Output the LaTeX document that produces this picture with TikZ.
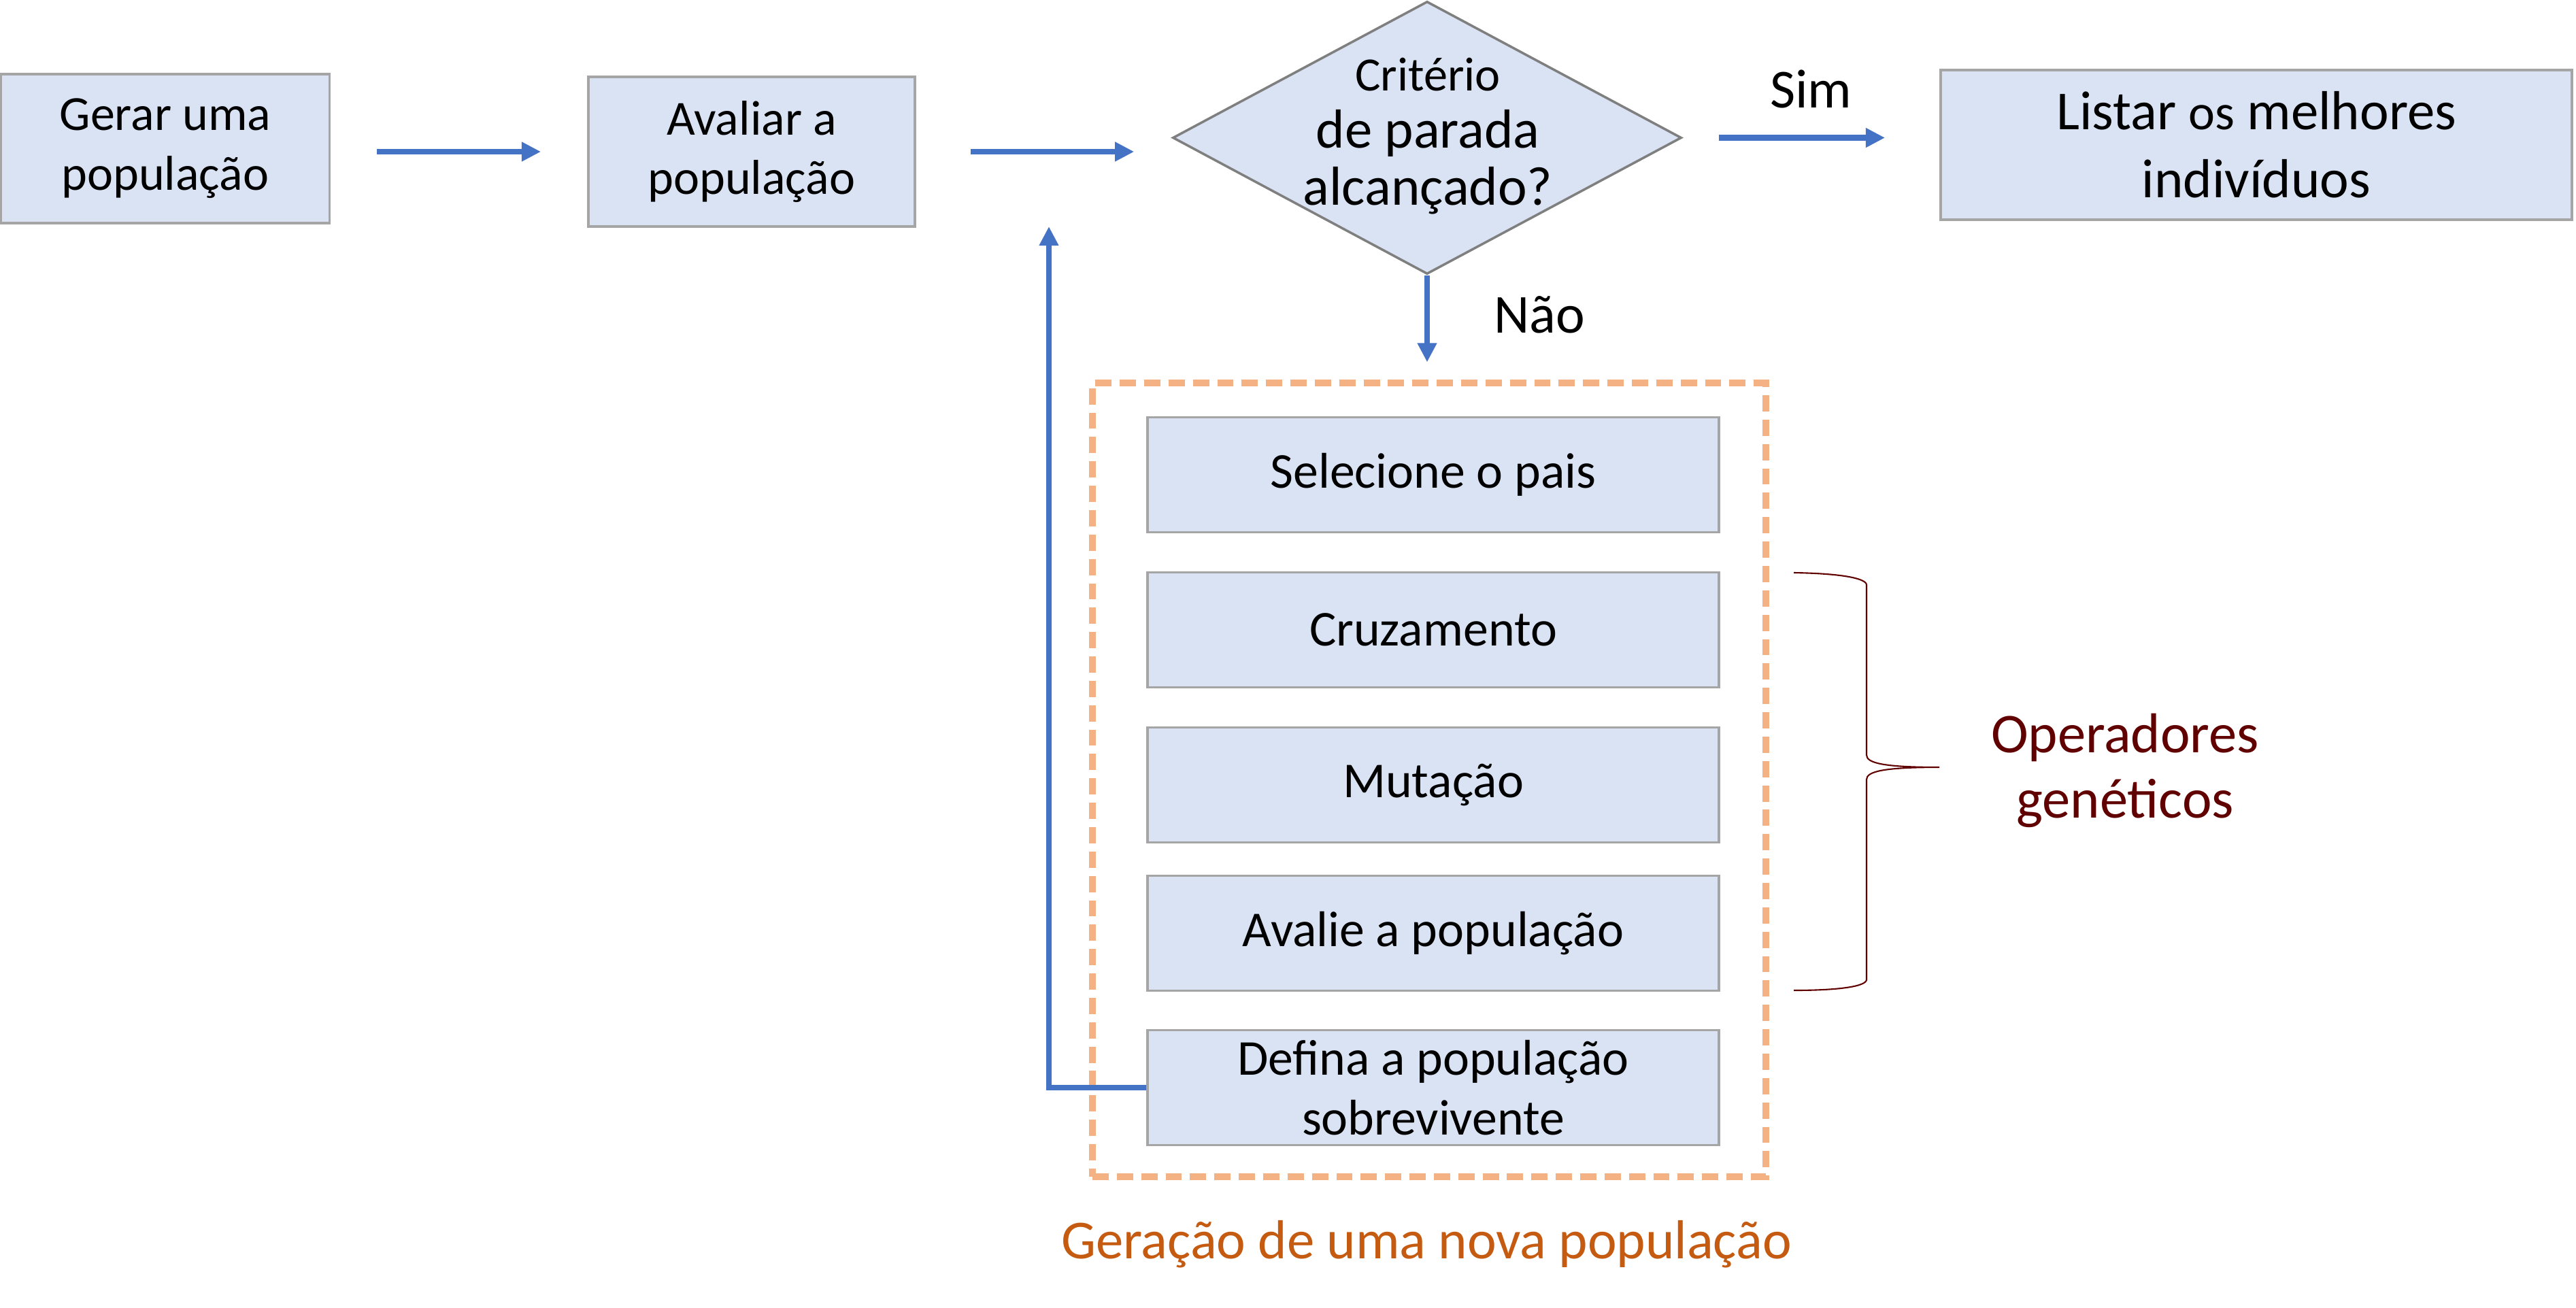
\documentclass[tikz,border=0pt]{standalone}
\usepackage{fontspec}
\setmainfont{Carlito}
\usetikzlibrary{arrows.meta,positioning,shapes.geometric}
\definecolor{boxfill}{HTML}{DAE3F3}
\definecolor{boxline}{HTML}{A5A5A5}
\definecolor{flowblue}{HTML}{4472C4}
\definecolor{critline}{HTML}{7F7F7F}
\definecolor{framecol}{HTML}{F4B183}
\definecolor{gentxt}{HTML}{C55A11}
\definecolor{optxt}{HTML}{600000}

\begin{document}
\begin{tikzpicture}[>={Triangle[length=8pt,width=7.7pt]},
  stepbox/.style={draw=boxline,fill=boxfill,line width=1.1pt,inner sep=0pt,align=center,font=\fontsize{20.5}{25}\selectfont},
  opbox/.style={stepbox,minimum width=8.4cm,minimum height=1.69cm,font=\fontsize{21}{25}\selectfont},
  flow/.style={->,draw=flowblue,line width=2.3pt},
  lbl/.style={inner sep=0pt,font=\fontsize{23}{28}\selectfont}]
\useasboundingbox (0,0) rectangle (37.87,-19.22);

% main line
\node[stepbox,minimum width=4.83cm,minimum height=2.19cm] (gen) at (2.43,-2.185) {Gerar uma\\população};
\node[stepbox,minimum width=4.80cm,minimum height=2.20cm] (aval) at (11.05,-2.23) {Avaliar a\\população};
\node[diamond,draw=critline,fill=boxfill,line width=1pt,inner sep=0pt,minimum width=7.48cm,minimum height=4.01cm] (crit) at (20.98,-2.025) {};
\node[align=center,inner sep=0pt,font=\fontsize{23}{24}\selectfont] (critTxt) at (20.99,-2.0) {{\fontsize{20}{24}\selectfont Critério}\\de parada\\alcançado?};
\node[stepbox,minimum width=9.28cm,minimum height=2.20cm,font=\fontsize{23}{28.5}\selectfont] (best) at (33.17,-2.13) {Listar {\fontsize{21}{28.5}\selectfont os} melhores\\indivíduos};

% new generation
\node[draw=framecol,line width=2.6pt,dash pattern=on 6.8pt off 3.4pt,inner sep=0pt,minimum width=9.90cm,minimum height=11.67cm] (newpop) at (21.01,-11.465) {};
\foreach \i/\y/\t in {1/6.98/Selecione o pais,2/9.26/Cruzamento,3/11.54/Mutação,4/13.72/Avalie a população,5/15.99/{Defina a população\\sobrevivente}}
  \node[opbox] (op\i) at (21.07,-\y) {\t};
\node[lbl,text=gentxt,anchor=base] (genLbl) at (20.97,-18.50) {Geração de uma nova população};

% arrows
\draw[flow,shorten <=0.68cm,shorten >=0.68cm] (gen.east |- aval) -- (aval.west);
\draw[flow,shorten <=0.80cm,shorten >=0.55cm] (aval.east) -- (aval.east -| crit.west);
\draw[flow,shorten <=0.53cm,shorten >=0.80cm] (crit.east) -- node[lbl,midway,above=0.39cm] (sim) {Sim} (crit.east -| best.west);
\draw[flow,shorten >=0.26cm] (crit.south) -- node[lbl,pos=0.38,right=0.94cm] (nao) {Não} (crit.south |- newpop.north);
\coordinate (loopEnd) at (15.42,-3.33);
\draw[flow] (op5.west) -| (loopEnd);

% brace
\draw[optxt,line width=0.6pt] (26.37,-8.42) .. controls (27.05,-8.43) and (27.44,-8.50) .. (27.44,-8.60)
  -- (27.44,-11.10) .. controls (27.44,-11.22) and (27.70,-11.28) .. (28.51,-11.28)
  .. controls (27.70,-11.28) and (27.44,-11.34) .. (27.44,-11.46)
  -- (27.44,-14.40) .. controls (27.44,-14.50) and (27.05,-14.56) .. (26.37,-14.56);
\node[lbl,text=optxt,align=center,font=\fontsize{23.5}{27.5}\selectfont] (opLbl) at (31.24,-11.33) {Operadores\\genéticos};
\end{tikzpicture}
\end{document}
